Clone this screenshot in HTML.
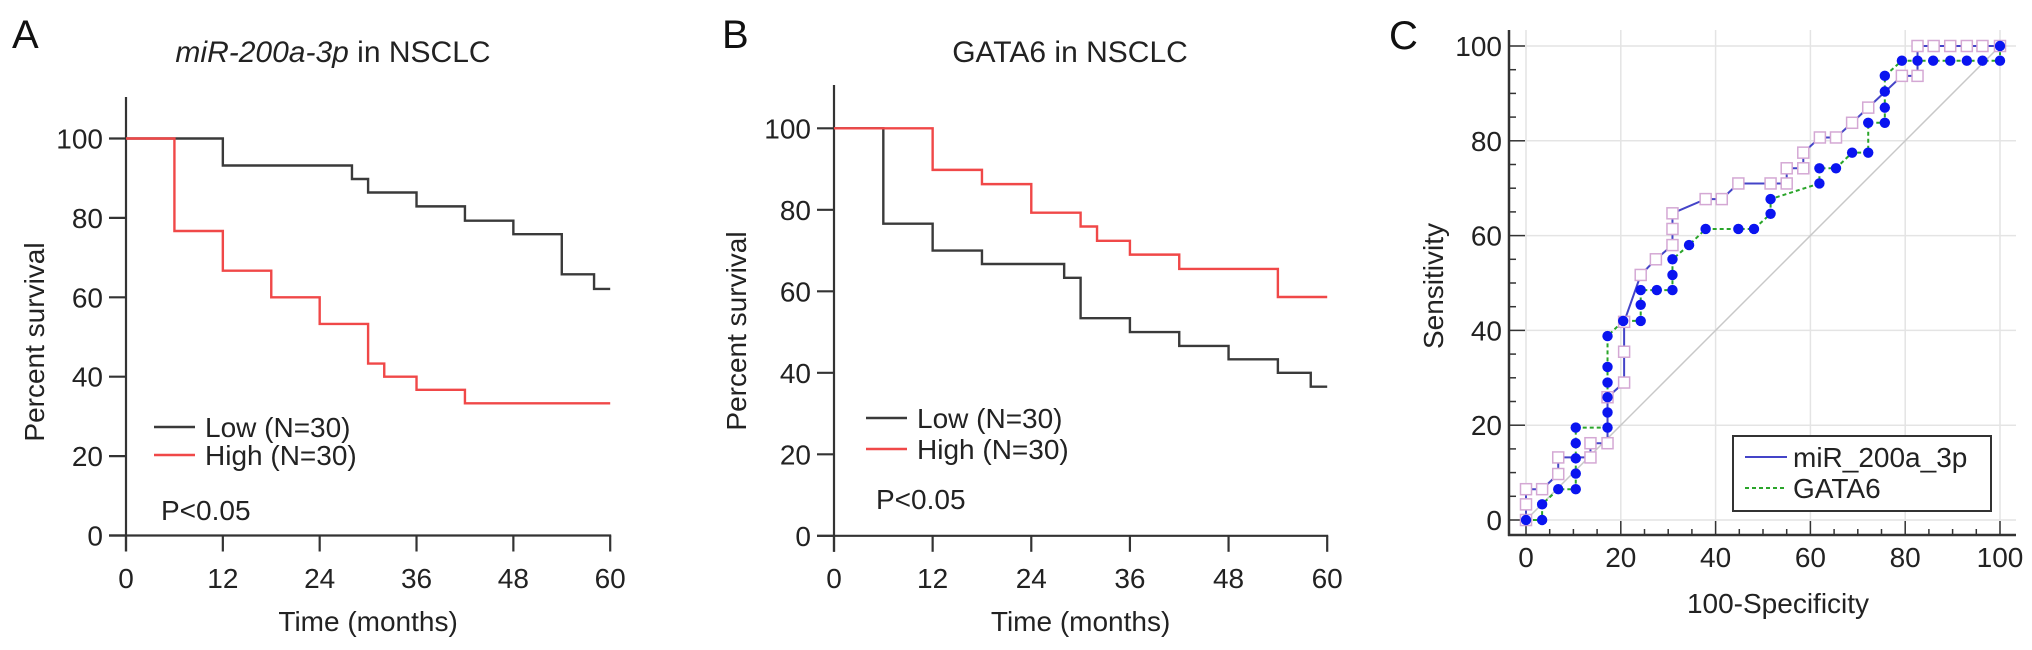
<!DOCTYPE html>
<html><head><meta charset="utf-8">
<style>
html,body{margin:0;padding:0;background:#fff;}
svg{display:block;font-family:"Liberation Sans",Arial,sans-serif;}
</style></head>
<body>
<svg id="fig" width="2032" height="650" viewBox="0 0 2032 650" xmlns="http://www.w3.org/2000/svg">
<rect width="2032" height="650" fill="#fff"/>
<g id="pa"></g>
<g id="pb"></g>
<g id="pc"></g>
</svg>
<script>
// ---- Panel A data ----
const aLowTimes = [12, 28, 30, 36, 42, 48, 54, 58];
const aLowValues = [93.2, 89.8, 86.4, 82.9, 79.3, 75.9, 65.8, 62.1];
const aHighTimes = [6, 12, 18, 24, 30, 32, 36, 42];
const aHighValues = [76.7, 66.7, 60, 53.3, 43.3, 40, 36.7, 33.3];
// ---- Panel B data ----
const bLowTimes = [6, 12, 18, 28, 30, 36, 42, 48, 54, 58];
const bLowValues = [76.6, 70, 66.7, 63.3, 53.4, 50, 46.6, 43.3, 40, 36.6];
const bHighTimes = [12, 18, 24, 30, 32, 36, 42, 54];
const bHighValues = [89.8, 86.3, 79.3, 75.9, 72.4, 69, 65.5, 58.6];
const kmXTicks = [0, 12, 24, 36, 48, 60];
const kmYTicks = [0, 20, 40, 60, 80, 100];
// ---- Panel C data ----
const mirX = [0, 0, 0, 3.4, 6.8, 6.8, 13.6, 13.6, 17.2, 17.2, 20.7, 20.7, 20.7, 24.2, 27.4, 30.9, 30.9, 30.9, 37.9, 41.3, 44.8, 51.6, 55, 55, 58.5, 58.5, 62, 65.4, 68.8, 72.2, 79.3, 82.6, 82.6, 86, 89.5, 93, 96.3, 100];
const mirY = [0, 3.3, 6.5, 6.5, 9.7, 13.2, 13.2, 16.2, 16.2, 25.9, 29, 35.5, 41.8, 51.7, 55, 58, 61.4, 64.7, 67.7, 67.7, 71, 71, 71, 74.2, 74.2, 77.5, 80.7, 80.7, 83.8, 87, 93.7, 93.7, 100, 100, 100, 100, 100, 100];
const gataX = [0, 3.4, 3.4, 6.8, 10.5, 10.5, 10.5, 10.5, 10.5, 17.2, 17.2, 17.2, 17.2, 17.2, 17.2, 20.5, 24.2, 24.2, 24.2, 27.6, 30.9, 30.9, 30.9, 34.4, 37.9, 44.8, 48.1, 51.6, 51.6, 61.9, 61.9, 65.4, 68.8, 72.2, 72.2, 75.7, 75.7, 75.7, 75.7, 79.3, 82.6, 85.9, 89.5, 93, 96.3, 100, 100];
const gataY = [0, 0, 3.3, 6.5, 6.5, 9.8, 13, 16.2, 19.5, 19.5, 22.7, 25.9, 29, 32.3, 38.8, 42, 42, 45.4, 48.5, 48.5, 48.5, 51.7, 55, 58, 61.4, 61.4, 61.4, 64.6, 67.7, 71, 74.2, 74.2, 77.5, 77.5, 83.8, 83.8, 87, 90.4, 93.7, 96.9, 96.9, 96.9, 96.9, 96.9, 96.9, 96.9, 100];
const rocTicks = [0, 20, 40, 60, 80, 100];

const NS = "http://www.w3.org/2000/svg";
function mk(parent, tag, attrs, text) {
  const e = document.createElementNS(NS, tag);
  for (const k in attrs) e.setAttribute(k, attrs[k]);
  if (text !== undefined) e.textContent = text;
  parent.appendChild(e);
  return e;
}
const AX = "#333";

function kmPanel(g, cfg, lowT, lowV, highT, highV) {
  const xs = t => cfg.x0 + t * cfg.xs;
  const ys = v => cfg.y0 - v * cfg.ys;
  let e;
  e = mk(g, "text", {x: cfg.letterX, y: 48, "font-size": 40, fill: "#111"}, cfg.letter);
  
  
  e = mk(g, "text", {x: cfg.titleX, y: 62, "font-size": 30, fill: "#222", "text-anchor": "middle"});
  
  
  if (cfg.italic) { mk(e, "tspan", {"font-style": "italic"}, cfg.italic); mk(e, "tspan", {}, cfg.title); }
  else e.textContent = cfg.title;
  e = mk(g, "line", {x1: cfg.x0, y1: cfg.top, x2: cfg.x0, y2: cfg.y0 + 16, stroke: AX, "stroke-width": 2.2});
  
  
  e = mk(g, "line", {x1: cfg.x0 - 17, y1: cfg.y0, x2: xs(60) + 1, y2: cfg.y0, stroke: AX, "stroke-width": 2.2});
  
  
  kmYTicks.forEach(v => {
    mk(g, "line", {x1: cfg.x0 - 17, y1: ys(v), x2: cfg.x0, y2: ys(v), stroke: AX, "stroke-width": 2.2});
    e = mk(g, "text", {x: cfg.x0 - 23, y: ys(v) + 10, "font-size": 28, fill: "#222", "text-anchor": "end"}, v);
    
    
  });
  kmXTicks.forEach(t => {
    mk(g, "line", {x1: xs(t), y1: cfg.y0, x2: xs(t), y2: cfg.y0 + 16, stroke: AX, "stroke-width": 2.2});
    e = mk(g, "text", {x: xs(t), y: 588, "font-size": 28, fill: "#222", "text-anchor": "middle"}, t);
    
    
  });
  e = mk(g, "text", {x: (cfg.x0 + xs(60)) / 2, y: 631, "font-size": 28, fill: "#222", "text-anchor": "middle"}, "Time (months)");
  
  
  e = mk(g, "text", {x: 0, y: 0, "font-size": 28, fill: "#222", "text-anchor": "middle", transform: `translate(${cfg.ytX},${cfg.ytY}) rotate(-90)`}, "Percent survival");
  
  
  function curve(T, V, color, name) {
    let d = `M${xs(0)},${ys(100)}`;
    for (let i = 0; i < T.length; i++) d += ` H${xs(T[i])} V${ys(V[i])}`;
    d += ` H${xs(60)}`;
    const p = mk(g, "path", {d: d, fill: "none", stroke: color, "stroke-width": 2.4});
    
    
  }
  curve(lowT, lowV, "#3a3a3a", "low-curve");
  curve(highT, highV, "#f04848", "high-curve");
  e = mk(g, "line", {x1: cfg.legX, y1: cfg.legY1, x2: cfg.legX + 41, y2: cfg.legY1, stroke: "#3a3a3a", "stroke-width": 2.4});
  
  
  e = mk(g, "text", {x: cfg.legX + 51, y: cfg.legY1 + 10, "font-size": 28, fill: "#222"}, "Low (N=30)");
  
  
  e = mk(g, "line", {x1: cfg.legX, y1: cfg.legY2, x2: cfg.legX + 41, y2: cfg.legY2, stroke: "#f04848", "stroke-width": 2.4});
  
  
  e = mk(g, "text", {x: cfg.legX + 51, y: cfg.legY2 + 10, "font-size": 28, fill: "#222"}, "High (N=30)");
  
  
  e = mk(g, "text", {x: cfg.pX, y: cfg.pY + 10, "font-size": 28, fill: "#222"}, "P<0.05");
  
  
}

kmPanel(document.getElementById("pa"), {
  letter: "A", letterX: 12, titleX: 333, italic: "miR-200a-3p", title: " in NSCLC",
  x0: 126, xs: 8.07, y0: 535.5, ys: 3.97, top: 97,
  ytX: 44, ytY: 342, legX: 154, legY1: 427, legY2: 455, pX: 161, pY: 510
}, aLowTimes, aLowValues, aHighTimes, aHighValues);

kmPanel(document.getElementById("pb"), {
  letter: "B", letterX: 722, titleX: 1070, italic: null, title: "GATA6 in NSCLC",
  x0: 834, xs: 8.22, y0: 535.8, ys: 4.075, top: 85,
  ytX: 746, ytY: 331, legX: 866, legY1: 418, legY2: 449, pX: 876, pY: 499
}, bLowTimes, bLowValues, bHighTimes, bHighValues);

(function () {
  const g = document.getElementById("pc");
  const x0 = 1526, y0 = 520, s = 4.74;
  const xs = v => x0 + v * s;
  const ys = v => y0 - v * s;
  let e;
  e = mk(g, "text", {x: 1389, y: 49, "font-size": 40, fill: "#111"}, "C");
  
  
  rocTicks.forEach(v => {
    mk(g, "line", {x1: 1509, y1: ys(v), x2: 2016, y2: ys(v), stroke: "#e4e4e4", "stroke-width": 1.5});
    mk(g, "line", {x1: xs(v), y1: 30, x2: xs(v), y2: 535, stroke: "#e4e4e4", "stroke-width": 1.5});
  });
  e = mk(g, "line", {x1: xs(0), y1: ys(0), x2: xs(100), y2: ys(100), stroke: "#c8c8c8", "stroke-width": 1.5});
  
  
  e = mk(g, "line", {x1: 1509, y1: 30, x2: 1509, y2: 536, stroke: AX, "stroke-width": 2.5});
  
  
  e = mk(g, "line", {x1: 1508, y1: 535, x2: 2016, y2: 535, stroke: AX, "stroke-width": 2.5});
  
  
  for (let v = 0; v <= 100; v += 5) {
    const major = v % 20 === 0;
    mk(g, "line", {x1: 1509, y1: ys(v), x2: 1509 + (major ? 16 : 7), y2: ys(v), stroke: AX, "stroke-width": 1.5});
    mk(g, "line", {x1: xs(v), y1: 535, x2: xs(v), y2: 535 - (major ? 14 : 6), stroke: AX, "stroke-width": 1.5});
  }
  rocTicks.forEach(v => {
    e = mk(g, "text", {x: 1502, y: ys(v) + 10, "font-size": 28, fill: "#222", "text-anchor": "end"}, v);
    
    
    e = mk(g, "text", {x: xs(v), y: 567, "font-size": 28, fill: "#222", "text-anchor": "middle"}, v);
    
    
  });
  e = mk(g, "text", {x: 1778, y: 613, "font-size": 28, fill: "#222", "text-anchor": "middle"}, "100-Specificity");
  
  
  e = mk(g, "text", {x: 0, y: 0, "font-size": 28, fill: "#222", "text-anchor": "middle", transform: "translate(1443,286) rotate(-90)"}, "Sensitivity");
  
  
  let pts = gataX.map((v, i) => `${xs(v)},${ys(gataY[i])}`).join(" ");
  e = mk(g, "polyline", {points: pts, fill: "none", stroke: "#2aa52a", "stroke-width": 2, "stroke-dasharray": "4,3"});
  
  
  pts = mirX.map((v, i) => `${xs(v)},${ys(mirY[i])}`).join(" ");
  e = mk(g, "polyline", {points: pts, fill: "none", stroke: "#4444c8", "stroke-width": 2});
  
  
  mirX.forEach((v, i) => {
    const r = mk(g, "rect", {x: xs(v) - 5.5, y: ys(mirY[i]) - 5.5, width: 11, height: 11, fill: "#fff", stroke: "#d4a8d4", "stroke-width": 1.5});
    
    
  });
  gataX.forEach((v, i) => {
    const c = mk(g, "circle", {cx: xs(v), cy: ys(gataY[i]), r: 5.2, fill: "#0a14f0"});
    
    
  });
  const lg = mk(g, "g", {});
  
  
  mk(lg, "rect", {x: 1733, y: 436, width: 258, height: 75, fill: "#fff", stroke: "#333", "stroke-width": 2});
  e = mk(lg, "line", {x1: 1745, y1: 457, x2: 1787, y2: 457, stroke: "#4444c8", "stroke-width": 2});
  
  
  e = mk(lg, "text", {x: 1793, y: 467, "font-size": 28, fill: "#222"}, "miR_200a_3p");
  
  
  e = mk(lg, "line", {x1: 1745, y1: 488, x2: 1787, y2: 488, stroke: "#2aa52a", "stroke-width": 2, "stroke-dasharray": "4,3"});
  
  
  e = mk(lg, "text", {x: 1793, y: 498, "font-size": 28, fill: "#222"}, "GATA6");
  
  
})();
</script>
</body></html>
